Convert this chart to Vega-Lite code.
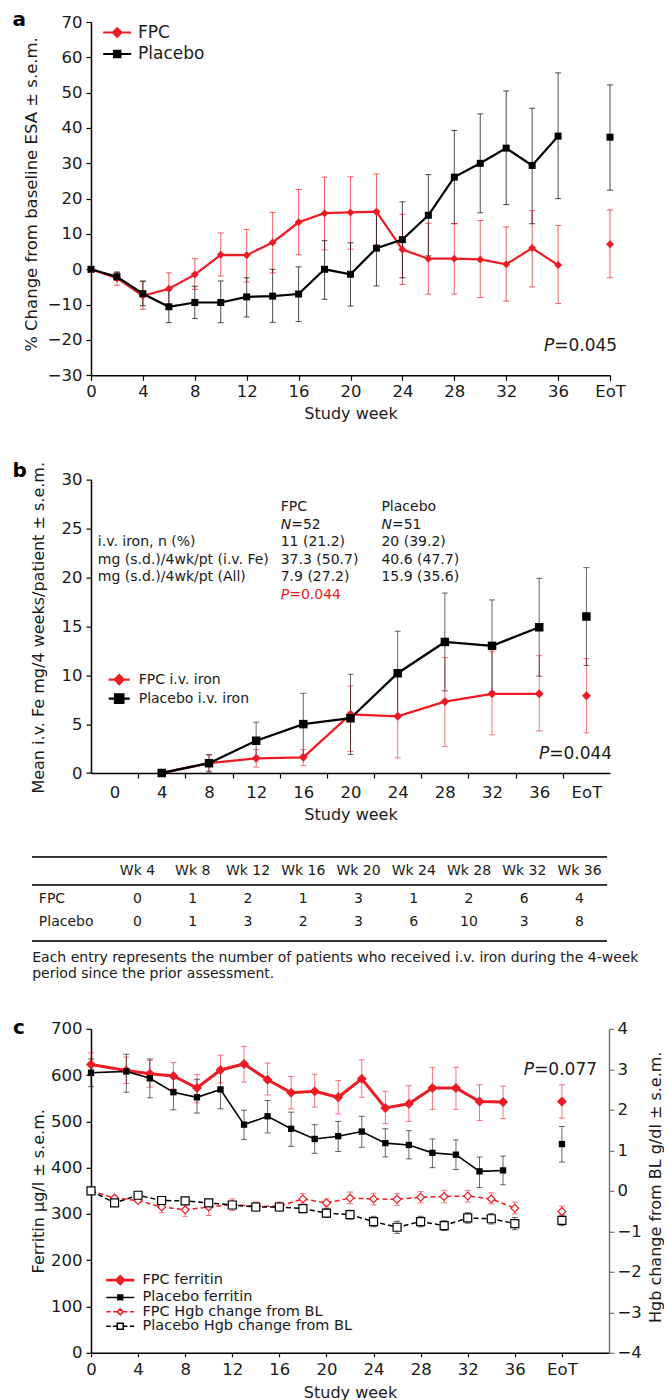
{
"$schema": "https://vega.github.io/schema/vega-lite/v6.json",
"background": "white",
"padding": {"left": 12, "top": 10, "right": 0, "bottom": 0},
"autosize": {"type": "pad"},
"bounds": "flush",
"spacing": 103.6,
"resolve": {"scale": {"color": "independent"}, "legend": {"color": "independent"}},
"config": {
  "font": "DejaVu Sans",
  "view": {"stroke": null},
  "axis": {"labelFont": "DejaVu Sans", "labelFontSize": 16.5, "labelColor": "#1a1a1a", "titleFont": "DejaVu Sans", "titleFontSize": 16, "titleFontWeight": "normal", "titleColor": "#1a1a1a", "domainColor": "#000000", "domainWidth": 1.5, "tickColor": "#000000", "tickWidth": 1.2, "tickSize": 5, "labelPadding": 4, "grid": false, "labelFlush": false, "labelOverlap": false},
  "text": {"font": "DejaVu Sans", "color": "#1a1a1a"}
},
"datasets": {
  "esa": [
    {"week":0,"grp":"FPC","y":0,"lo":0,"hi":0},
    {"week":2,"grp":"FPC","y":-2.5,"lo":-4.5,"hi":-0.8},
    {"week":4,"grp":"FPC","y":-7.5,"lo":-11.3,"hi":-3.5},
    {"week":6,"grp":"FPC","y":-5.5,"lo":-10,"hi":-1},
    {"week":8,"grp":"FPC","y":-1.5,"lo":-5.7,"hi":3},
    {"week":10,"grp":"FPC","y":4.1,"lo":-1.9,"hi":10.3},
    {"week":12,"grp":"FPC","y":4,"lo":-3.6,"hi":11.3},
    {"week":14,"grp":"FPC","y":7.6,"lo":-1,"hi":16.1},
    {"week":16,"grp":"FPC","y":13.3,"lo":4.1,"hi":22.6},
    {"week":18,"grp":"FPC","y":15.9,"lo":5.5,"hi":26.1},
    {"week":20,"grp":"FPC","y":16.1,"lo":5.7,"hi":26.2},
    {"week":22,"grp":"FPC","y":16.3,"lo":5.5,"hi":27},
    {"week":24,"grp":"FPC","y":5.6,"lo":-4.3,"hi":15.6},
    {"week":26,"grp":"FPC","y":3,"lo":-7,"hi":13},
    {"week":28,"grp":"FPC","y":3,"lo":-7,"hi":13},
    {"week":30,"grp":"FPC","y":2.8,"lo":-8,"hi":13.8},
    {"week":32,"grp":"FPC","y":1.4,"lo":-9,"hi":12},
    {"week":34,"grp":"FPC","y":6,"lo":-5,"hi":16.6},
    {"week":36,"grp":"FPC","y":1.2,"lo":-9.7,"hi":12.4},
    {"week":40,"grp":"FPC","y":7.1,"lo":-2.4,"hi":16.8},
    {"week":0,"grp":"Placebo","y":0,"lo":0,"hi":0},
    {"week":2,"grp":"Placebo","y":-2.1,"lo":-3.1,"hi":-0.8},
    {"week":4,"grp":"Placebo","y":-6.9,"lo":-10.3,"hi":-3.3},
    {"week":6,"grp":"Placebo","y":-10.6,"lo":-15.1,"hi":-5.9},
    {"week":8,"grp":"Placebo","y":-9.4,"lo":-13.9,"hi":-4.8},
    {"week":10,"grp":"Placebo","y":-9.4,"lo":-15.1,"hi":-3.3},
    {"week":12,"grp":"Placebo","y":-7.8,"lo":-13.5,"hi":-2.4},
    {"week":14,"grp":"Placebo","y":-7.6,"lo":-15,"hi":0},
    {"week":16,"grp":"Placebo","y":-7,"lo":-14.8,"hi":0.7},
    {"week":18,"grp":"Placebo","y":0,"lo":-8.5,"hi":8.1},
    {"week":20,"grp":"Placebo","y":-1.4,"lo":-10.4,"hi":7.5},
    {"week":22,"grp":"Placebo","y":6,"lo":-4.7,"hi":16.7},
    {"week":24,"grp":"Placebo","y":8.4,"lo":-2.4,"hi":19.1},
    {"week":26,"grp":"Placebo","y":15.3,"lo":3.8,"hi":26.8},
    {"week":28,"grp":"Placebo","y":26.1,"lo":12.9,"hi":39.3},
    {"week":30,"grp":"Placebo","y":30,"lo":16,"hi":44},
    {"week":32,"grp":"Placebo","y":34.3,"lo":18.3,"hi":50.5},
    {"week":34,"grp":"Placebo","y":29.4,"lo":12.9,"hi":45.6},
    {"week":36,"grp":"Placebo","y":37.7,"lo":20,"hi":55.6},
    {"week":40,"grp":"Placebo","y":37.4,"lo":22.4,"hi":52.2}
  ],
  "fe": [
    {"week":4,"grp":"FPC i.v. iron","y":0,"lo":0,"hi":0},
    {"week":8,"grp":"FPC i.v. iron","y":1,"lo":0.2,"hi":1.8},
    {"week":12,"grp":"FPC i.v. iron","y":1.5,"lo":0.6,"hi":2.4},
    {"week":16,"grp":"FPC i.v. iron","y":1.6,"lo":0.75,"hi":2.4},
    {"week":20,"grp":"FPC i.v. iron","y":6,"lo":2.2,"hi":8.9},
    {"week":24,"grp":"FPC i.v. iron","y":5.8,"lo":1.55,"hi":10.05},
    {"week":28,"grp":"FPC i.v. iron","y":7.3,"lo":2.7,"hi":11.8},
    {"week":32,"grp":"FPC i.v. iron","y":8.1,"lo":3.9,"hi":12.4},
    {"week":36,"grp":"FPC i.v. iron","y":8.1,"lo":4.3,"hi":12},
    {"week":40,"grp":"FPC i.v. iron","y":7.9,"lo":4.1,"hi":11.7},
    {"week":4,"grp":"Placebo i.v. iron","y":0,"lo":0,"hi":0},
    {"week":8,"grp":"Placebo i.v. iron","y":1,"lo":0.1,"hi":1.9},
    {"week":12,"grp":"Placebo i.v. iron","y":3.3,"lo":1.4,"hi":5.2},
    {"week":16,"grp":"Placebo i.v. iron","y":5,"lo":1.85,"hi":8.15},
    {"week":20,"grp":"Placebo i.v. iron","y":5.6,"lo":1.9,"hi":10.1},
    {"week":24,"grp":"Placebo i.v. iron","y":10.2,"lo":5.9,"hi":14.5},
    {"week":28,"grp":"Placebo i.v. iron","y":13.4,"lo":8.4,"hi":18.4},
    {"week":32,"grp":"Placebo i.v. iron","y":13,"lo":8.3,"hi":17.7},
    {"week":36,"grp":"Placebo i.v. iron","y":14.9,"lo":9.9,"hi":19.9},
    {"week":40,"grp":"Placebo i.v. iron","y":16,"lo":11,"hi":21}
  ],
  "fer": [
    {"week":0,"grp":"FPC ferritin","y":623,"lo":599,"hi":648},
    {"week":3,"grp":"FPC ferritin","y":610,"lo":582,"hi":639},
    {"week":5,"grp":"FPC ferritin","y":603,"lo":574,"hi":632},
    {"week":7,"grp":"FPC ferritin","y":598,"lo":570,"hi":627},
    {"week":9,"grp":"FPC ferritin","y":572,"lo":540,"hi":601},
    {"week":11,"grp":"FPC ferritin","y":611,"lo":583,"hi":643},
    {"week":13,"grp":"FPC ferritin","y":624,"lo":585,"hi":662},
    {"week":15,"grp":"FPC ferritin","y":590,"lo":557,"hi":626},
    {"week":17,"grp":"FPC ferritin","y":562,"lo":527,"hi":597},
    {"week":19,"grp":"FPC ferritin","y":565,"lo":531,"hi":602},
    {"week":21,"grp":"FPC ferritin","y":552,"lo":516,"hi":588},
    {"week":23,"grp":"FPC ferritin","y":592,"lo":552,"hi":633},
    {"week":25,"grp":"FPC ferritin","y":529,"lo":495,"hi":565},
    {"week":27,"grp":"FPC ferritin","y":538,"lo":500,"hi":577},
    {"week":29,"grp":"FPC ferritin","y":572,"lo":526,"hi":616},
    {"week":31,"grp":"FPC ferritin","y":572,"lo":526,"hi":617},
    {"week":33,"grp":"FPC ferritin","y":543,"lo":502,"hi":579},
    {"week":35,"grp":"FPC ferritin","y":542,"lo":506,"hi":576},
    {"week":40,"grp":"FPC ferritin","y":543,"lo":507,"hi":579},
    {"week":0,"grp":"Placebo ferritin","y":605,"lo":575,"hi":635},
    {"week":3,"grp":"Placebo ferritin","y":608,"lo":563,"hi":645},
    {"week":5,"grp":"Placebo ferritin","y":593,"lo":551,"hi":635},
    {"week":7,"grp":"Placebo ferritin","y":563,"lo":525,"hi":598},
    {"week":9,"grp":"Placebo ferritin","y":552,"lo":518,"hi":591},
    {"week":11,"grp":"Placebo ferritin","y":569,"lo":527,"hi":611},
    {"week":13,"grp":"Placebo ferritin","y":493,"lo":461,"hi":524},
    {"week":15,"grp":"Placebo ferritin","y":511,"lo":475,"hi":545},
    {"week":17,"grp":"Placebo ferritin","y":484,"lo":446,"hi":520},
    {"week":19,"grp":"Placebo ferritin","y":462,"lo":431,"hi":493},
    {"week":21,"grp":"Placebo ferritin","y":468,"lo":435,"hi":500},
    {"week":23,"grp":"Placebo ferritin","y":478,"lo":444,"hi":511},
    {"week":25,"grp":"Placebo ferritin","y":453,"lo":423,"hi":484},
    {"week":27,"grp":"Placebo ferritin","y":449,"lo":419,"hi":480},
    {"week":29,"grp":"Placebo ferritin","y":432,"lo":400,"hi":462},
    {"week":31,"grp":"Placebo ferritin","y":428,"lo":396,"hi":460},
    {"week":33,"grp":"Placebo ferritin","y":392,"lo":357,"hi":423},
    {"week":35,"grp":"Placebo ferritin","y":394,"lo":363,"hi":425},
    {"week":40,"grp":"Placebo ferritin","y":451,"lo":412,"hi":489}
  ],
  "hgb": [
    {"week":0,"grp":"FPC Hgb change from BL","y":0,"lo":0,"hi":0},
    {"week":2,"grp":"FPC Hgb change from BL","y":-0.18,"lo":-0.23,"hi":-0.13},
    {"week":4,"grp":"FPC Hgb change from BL","y":-0.24,"lo":-0.29,"hi":-0.19},
    {"week":6,"grp":"FPC Hgb change from BL","y":-0.4,"lo":-0.54,"hi":-0.28},
    {"week":8,"grp":"FPC Hgb change from BL","y":-0.47,"lo":-0.63,"hi":-0.32},
    {"week":10,"grp":"FPC Hgb change from BL","y":-0.4,"lo":-0.61,"hi":-0.24},
    {"week":12,"grp":"FPC Hgb change from BL","y":-0.34,"lo":-0.49,"hi":-0.2},
    {"week":14,"grp":"FPC Hgb change from BL","y":-0.38,"lo":-0.49,"hi":-0.28},
    {"week":16,"grp":"FPC Hgb change from BL","y":-0.38,"lo":-0.49,"hi":-0.28},
    {"week":18,"grp":"FPC Hgb change from BL","y":-0.2,"lo":-0.32,"hi":-0.07},
    {"week":20,"grp":"FPC Hgb change from BL","y":-0.3,"lo":-0.4,"hi":-0.2},
    {"week":22,"grp":"FPC Hgb change from BL","y":-0.18,"lo":-0.32,"hi":-0.03},
    {"week":24,"grp":"FPC Hgb change from BL","y":-0.2,"lo":-0.35,"hi":-0.06},
    {"week":26,"grp":"FPC Hgb change from BL","y":-0.21,"lo":-0.36,"hi":-0.07},
    {"week":28,"grp":"FPC Hgb change from BL","y":-0.16,"lo":-0.3,"hi":-0.02},
    {"week":30,"grp":"FPC Hgb change from BL","y":-0.14,"lo":-0.3,"hi":0.01},
    {"week":32,"grp":"FPC Hgb change from BL","y":-0.13,"lo":-0.28,"hi":0.01},
    {"week":34,"grp":"FPC Hgb change from BL","y":-0.2,"lo":-0.32,"hi":-0.05},
    {"week":36,"grp":"FPC Hgb change from BL","y":-0.43,"lo":-0.57,"hi":-0.28},
    {"week":40,"grp":"FPC Hgb change from BL","y":-0.51,"lo":-0.63,"hi":-0.38},
    {"week":0,"grp":"Placebo Hgb change from BL","y":0,"lo":0,"hi":0},
    {"week":2,"grp":"Placebo Hgb change from BL","y":-0.3,"lo":-0.36,"hi":-0.24},
    {"week":4,"grp":"Placebo Hgb change from BL","y":-0.11,"lo":-0.17,"hi":-0.05},
    {"week":6,"grp":"Placebo Hgb change from BL","y":-0.24,"lo":-0.31,"hi":-0.17},
    {"week":8,"grp":"Placebo Hgb change from BL","y":-0.25,"lo":-0.32,"hi":-0.18},
    {"week":10,"grp":"Placebo Hgb change from BL","y":-0.3,"lo":-0.38,"hi":-0.22},
    {"week":12,"grp":"Placebo Hgb change from BL","y":-0.35,"lo":-0.44,"hi":-0.26},
    {"week":14,"grp":"Placebo Hgb change from BL","y":-0.4,"lo":-0.5,"hi":-0.3},
    {"week":16,"grp":"Placebo Hgb change from BL","y":-0.4,"lo":-0.5,"hi":-0.3},
    {"week":18,"grp":"Placebo Hgb change from BL","y":-0.44,"lo":-0.54,"hi":-0.34},
    {"week":20,"grp":"Placebo Hgb change from BL","y":-0.55,"lo":-0.66,"hi":-0.44},
    {"week":22,"grp":"Placebo Hgb change from BL","y":-0.59,"lo":-0.7,"hi":-0.48},
    {"week":24,"grp":"Placebo Hgb change from BL","y":-0.76,"lo":-0.89,"hi":-0.63},
    {"week":26,"grp":"Placebo Hgb change from BL","y":-0.9,"lo":-1.05,"hi":-0.75},
    {"week":28,"grp":"Placebo Hgb change from BL","y":-0.76,"lo":-0.89,"hi":-0.63},
    {"week":30,"grp":"Placebo Hgb change from BL","y":-0.86,"lo":-0.98,"hi":-0.74},
    {"week":32,"grp":"Placebo Hgb change from BL","y":-0.67,"lo":-0.8,"hi":-0.54},
    {"week":34,"grp":"Placebo Hgb change from BL","y":-0.69,"lo":-0.82,"hi":-0.56},
    {"week":36,"grp":"Placebo Hgb change from BL","y":-0.81,"lo":-0.96,"hi":-0.66},
    {"week":40,"grp":"Placebo Hgb change from BL","y":-0.73,"lo":-0.86,"hi":-0.6}
  ],
  "tbl": [
    {"col":1,"hdr":"Wk 4","fpc":"0","pla":"0"},
    {"col":2,"hdr":"Wk 8","fpc":"1","pla":"1"},
    {"col":3,"hdr":"Wk 12","fpc":"2","pla":"3"},
    {"col":4,"hdr":"Wk 16","fpc":"1","pla":"2"},
    {"col":5,"hdr":"Wk 20","fpc":"3","pla":"3"},
    {"col":6,"hdr":"Wk 24","fpc":"1","pla":"6"},
    {"col":7,"hdr":"Wk 28","fpc":"2","pla":"10"},
    {"col":8,"hdr":"Wk 32","fpc":"6","pla":"3"},
    {"col":9,"hdr":"Wk 36","fpc":"4","pla":"8"}
  ]
},
"vconcat": [
{
  "width": 519, "height": 353.3,
  "data": {"name": "esa"},
  "layer": [
    {"mark": {"type": "rule", "strokeWidth": 1, "opacity": 0.7},
     "encoding": {
       "x": {"field": "week", "type": "quantitative", "scale": {"domain": [0, 40], "nice": false, "zero": false},
             "axis": {"title": "Study week", "values": [0,4,8,12,16,20,24,28,32,36,40], "tickCount": 30, "format": "d", "labelExpr": "datum.value == 40 ? 'EoT' : datum.label", "labelOverlap": false, "tickSize": 5, "labelPadding": 3, "titlePadding": 6}},
       "y": {"field": "lo", "type": "quantitative", "scale": {"domain": [-30, 70], "nice": false},
             "axis": {"title": "% Change from baseline ESA ± s.e.m.", "values": [-30,-20,-10,0,10,20,30,40,50,60,70], "tickCount": 30, "format": "d", "labelOverlap": false, "titleX": -60, "titleY": 172, "titleBaseline": "middle", "titleAngle": -90, "titleFontSize": 16.5}},
       "y2": {"field": "hi"},
       "color": {"field": "grp", "type": "nominal", "scale": {"domain": ["FPC", "Placebo"], "range": ["#ed1c24", "#000000"]},
         "legend": {"orient": "none", "legendX": 17.7, "legendY": 2, "title": null, "labelFontSize": 17, "labelFont": "DejaVu Sans", "labelColor": "#1a1a1a", "symbolSize": 196, "symbolStrokeWidth": 2.2, "labelOffset": 12.3, "rowPadding": 2.5, "padding": 0, "offset": 0, "symbolOpacity": 1,
           "encode": {"symbols": {"update": {
             "shape": {"signal": "datum.value === 'FPC' ? 'M-2,0H2M0,-0.6L0.6,0L0,0.6L-0.6,0Z' : 'M-2,0H2M-0.45,-0.45H0.45V0.45H-0.45Z'"},
             "fill": {"signal": "datum.value === 'FPC' ? '#ed1c24' : '#000000'"},
             "stroke": {"signal": "datum.value === 'FPC' ? '#ed1c24' : '#000000'"}
           }}}}}
     }},
    {"mark": {"type": "tick", "orient": "horizontal", "size": 6, "thickness": 1, "opacity": 0.7},
     "encoding": {"x": {"field": "week", "type": "quantitative"}, "y": {"field": "lo", "type": "quantitative"}, "color": {"field": "grp", "type": "nominal"}}},
    {"mark": {"type": "tick", "orient": "horizontal", "size": 6, "thickness": 1, "opacity": 0.7},
     "encoding": {"x": {"field": "week", "type": "quantitative"}, "y": {"field": "hi", "type": "quantitative"}, "color": {"field": "grp", "type": "nominal"}}},
    {"transform": [{"filter": "datum.week < 40"}],
     "mark": {"type": "line", "strokeWidth": 2.2},
     "encoding": {"x": {"field": "week", "type": "quantitative"}, "y": {"field": "y", "type": "quantitative"}, "color": {"field": "grp", "type": "nominal"}}},
    {"transform": [{"filter": "datum.grp == 'FPC'"}],
     "mark": {"type": "point", "shape": "diamond", "filled": true, "size": 64, "color": "#ed1c24", "opacity": 1},
     "encoding": {"x": {"field": "week", "type": "quantitative"}, "y": {"field": "y", "type": "quantitative"}}},
    {"transform": [{"filter": "datum.grp == 'Placebo'"}],
     "mark": {"type": "point", "shape": "square", "filled": true, "size": 49, "color": "#000000", "opacity": 1},
     "encoding": {"x": {"field": "week", "type": "quantitative"}, "y": {"field": "y", "type": "quantitative"}}},
    {"data": {"values": [{}]},
     "mark": {"type": "text", "text": "P", "fontStyle": "italic", "align": "right", "baseline": "middle", "fontSize": 17},
     "encoding": {"x": {"datum": 35.7}, "y": {"datum": -21.8}}},
    {"data": {"values": [{}]},
     "mark": {"type": "text", "text": "=0.045", "align": "left", "baseline": "middle", "fontSize": 17},
     "encoding": {"x": {"datum": 35.7}, "y": {"datum": -21.8}}},
    {"data": {"values": [{}]},
     "mark": {"type": "text", "text": "a", "align": "left", "baseline": "alphabetic", "fontSize": 20, "fontWeight": "bold", "color": "#000000"},
     "encoding": {"x": {"datum": -6.05}, "y": {"datum": 68.78}}}
  ]
},
{
  "width": 519, "height": 293.4,
  "data": {"name": "fe"},
  "layer": [
    {"mark": {"type": "rule", "strokeWidth": 1, "opacity": 0.6},
     "encoding": {
       "x": {"field": "week", "type": "quantitative", "scale": {"domain": [-2, 42], "nice": false, "zero": false},
             "axis": {"title": "Study week", "values": [0,2,4,6,8,10,12,14,16,18,20,22,24,26,28,30,32,34,36,38,40], "tickCount": 50, "format": "d", "labelExpr": "datum.value % 4 != 0 ? '' : (datum.value == 40 ? 'EoT' : datum.label)", "labelOverlap": false, "tickOpacity": {"condition": {"test": "datum.value % 4 == 0", "value": 0}, "value": 1}, "tickSize": 5, "labelPadding": 6, "titlePadding": 6}},
       "y": {"field": "lo", "type": "quantitative", "scale": {"domain": [0, 30], "nice": false},
             "axis": {"title": "Mean i.v. Fe mg/4 weeks/patient ± s.e.m.", "values": [0,5,10,15,20,25,30], "tickCount": 30, "format": "d", "labelOverlap": false, "titleX": -52.5, "titleY": 147.7, "titleBaseline": "middle", "titleAngle": -90}},
       "y2": {"field": "hi"},
       "color": {"field": "grp", "type": "nominal", "scale": {"domain": ["FPC i.v. iron", "Placebo i.v. iron"], "range": ["#ed1c24", "#000000"]},
         "legend": {"orient": "none", "legendX": 20.7, "legendY": 192.5, "title": null, "labelFontSize": 14, "labelFont": "DejaVu Sans", "labelColor": "#1a1a1a", "symbolSize": 144, "symbolStrokeWidth": 2.2, "labelOffset": 12, "rowPadding": 0, "padding": 0, "offset": 0, "symbolOpacity": 1,
           "encode": {"symbols": {"update": {
             "shape": {"signal": "datum.value === 'FPC i.v. iron' ? 'M-1.75,0H1.75M0,-0.75L0.75,0L0,0.75L-0.75,0Z' : 'M-1.75,0H1.75M-0.7,-0.7H0.7V0.7H-0.7Z'"},
             "fill": {"signal": "datum.value === 'FPC i.v. iron' ? '#ed1c24' : '#000000'"},
             "stroke": {"signal": "datum.value === 'FPC i.v. iron' ? '#ed1c24' : '#000000'"}
           }}}}}
     }},
    {"mark": {"type": "tick", "orient": "horizontal", "size": 6, "thickness": 1, "opacity": 0.6},
     "encoding": {"x": {"field": "week", "type": "quantitative"}, "y": {"field": "lo", "type": "quantitative"}, "color": {"field": "grp", "type": "nominal"}}},
    {"mark": {"type": "tick", "orient": "horizontal", "size": 6, "thickness": 1, "opacity": 0.6},
     "encoding": {"x": {"field": "week", "type": "quantitative"}, "y": {"field": "hi", "type": "quantitative"}, "color": {"field": "grp", "type": "nominal"}}},
    {"transform": [{"filter": "datum.week < 40"}],
     "mark": {"type": "line", "strokeWidth": 2.3},
     "encoding": {"x": {"field": "week", "type": "quantitative"}, "y": {"field": "y", "type": "quantitative"}, "color": {"field": "grp", "type": "nominal"}}},
    {"transform": [{"filter": "datum.grp == 'FPC i.v. iron'"}],
     "mark": {"type": "point", "shape": "diamond", "filled": true, "size": 80, "color": "#ed1c24", "opacity": 1},
     "encoding": {"x": {"field": "week", "type": "quantitative"}, "y": {"field": "y", "type": "quantitative"}}},
    {"transform": [{"filter": "datum.grp == 'Placebo i.v. iron'"}],
     "mark": {"type": "point", "shape": "square", "filled": true, "size": 72, "color": "#000000", "opacity": 1},
     "encoding": {"x": {"field": "week", "type": "quantitative"}, "y": {"field": "y", "type": "quantitative"}}},
    {"data": {"values": [{}]},
     "mark": {"type": "text", "text": ["i.v. iron, n (%)", "mg (s.d.)/4wk/pt (i.v. Fe)", "mg (s.d.)/4wk/pt (All)"], "align": "left", "baseline": "alphabetic", "fontSize": 14, "lineHeight": 17.6},
     "encoding": {"x": {"datum": -1.42}, "y": {"datum": 23.18}}},
    {"data": {"values": [{}]},
     "mark": {"type": "text", "text": "FPC", "align": "left", "baseline": "alphabetic", "fontSize": 14},
     "encoding": {"x": {"datum": 14.08}, "y": {"datum": 26.76}}},
    {"data": {"values": [{}]},
     "mark": {"type": "text", "text": "Placebo", "align": "left", "baseline": "alphabetic", "fontSize": 14},
     "encoding": {"x": {"datum": 22.62}, "y": {"datum": 26.76}}},
    {"data": {"values": [{}]},
     "mark": {"type": "text", "text": "N", "fontStyle": "italic", "align": "left", "baseline": "alphabetic", "fontSize": 14},
     "encoding": {"x": {"datum": 14.08}, "y": {"datum": 24.92}}},
    {"data": {"values": [{}]},
     "mark": {"type": "text", "text": "=52", "dx": 10.5, "align": "left", "baseline": "alphabetic", "fontSize": 14},
     "encoding": {"x": {"datum": 14.08}, "y": {"datum": 24.92}}},
    {"data": {"values": [{}]},
     "mark": {"type": "text", "text": "N", "fontStyle": "italic", "align": "left", "baseline": "alphabetic", "fontSize": 14},
     "encoding": {"x": {"datum": 22.62}, "y": {"datum": 24.92}}},
    {"data": {"values": [{}]},
     "mark": {"type": "text", "text": "=51", "dx": 10.5, "align": "left", "baseline": "alphabetic", "fontSize": 14},
     "encoding": {"x": {"datum": 22.62}, "y": {"datum": 24.92}}},
    {"data": {"values": [{}]},
     "mark": {"type": "text", "text": ["11 (21.2)", "37.3 (50.7)", "7.9 (27.2)"], "align": "left", "baseline": "alphabetic", "fontSize": 14, "lineHeight": 17.6},
     "encoding": {"x": {"datum": 14.08}, "y": {"datum": 23.18}}},
    {"data": {"values": [{}]},
     "mark": {"type": "text", "text": ["20 (39.2)", "40.6 (47.7)", "15.9 (35.6)"], "align": "left", "baseline": "alphabetic", "fontSize": 14, "lineHeight": 17.6},
     "encoding": {"x": {"datum": 22.62}, "y": {"datum": 23.18}}},
    {"data": {"values": [{}]},
     "mark": {"type": "text", "text": "P", "fontStyle": "italic", "align": "left", "baseline": "alphabetic", "fontSize": 14, "color": "#ed1c24"},
     "encoding": {"x": {"datum": 14.08}, "y": {"datum": 17.76}}},
    {"data": {"values": [{}]},
     "mark": {"type": "text", "text": "=0.044", "dx": 8.5, "align": "left", "baseline": "alphabetic", "fontSize": 14, "color": "#ed1c24"},
     "encoding": {"x": {"datum": 14.08}, "y": {"datum": 17.76}}},
    {"data": {"values": [{}]},
     "mark": {"type": "text", "text": "P", "fontStyle": "italic", "align": "right", "baseline": "middle", "fontSize": 17},
     "encoding": {"x": {"datum": 36.85}, "y": {"datum": 1.91}}},
    {"data": {"values": [{}]},
     "mark": {"type": "text", "text": "=0.044", "align": "left", "baseline": "middle", "fontSize": 17},
     "encoding": {"x": {"datum": 36.85}, "y": {"datum": 1.91}}},
    {"data": {"values": [{}]},
     "mark": {"type": "text", "text": "b", "align": "left", "baseline": "alphabetic", "fontSize": 20, "fontWeight": "bold", "color": "#000000"},
     "encoding": {"x": {"datum": -8.66}, "y": {"datum": 30.3}}}
  ]
},
{
  "width": 519, "height": 47.8,
  "data": {"name": "tbl"},
  "layer": [
    {"mark": {"type": "rule", "strokeWidth": 1.2, "color": "#333333"},
     "encoding": {"x": {"datum": -0.906, "type": "quantitative", "scale": {"domain": [0.158, 9.552], "nice": false, "zero": false}, "axis": null}, "x2": {"datum": 9.498}, "y": {"datum": 0, "type": "quantitative", "scale": {"domain": [1.243, 4.128], "reverse": true, "nice": false, "zero": false}, "axis": null}}},
    {"mark": {"type": "rule", "strokeWidth": 1.2, "color": "#333333"},
     "encoding": {"x": {"datum": -0.906, "type": "quantitative"}, "x2": {"datum": 9.498}, "y": {"datum": 1.69, "type": "quantitative"}}},
    {"mark": {"type": "rule", "strokeWidth": 1.2, "color": "#333333"},
     "encoding": {"x": {"datum": -0.906, "type": "quantitative"}, "x2": {"datum": 9.498}, "y": {"datum": 5.1, "type": "quantitative"}}},
    {"mark": {"type": "text", "align": "center", "baseline": "middle", "fontSize": 14},
     "encoding": {"x": {"field": "col", "type": "quantitative"}, "y": {"datum": 0.845, "type": "quantitative"}, "text": {"field": "hdr"}}},
    {"mark": {"type": "text", "align": "center", "baseline": "middle", "fontSize": 14},
     "encoding": {"x": {"field": "col", "type": "quantitative"}, "y": {"datum": 2.58, "type": "quantitative"}, "text": {"field": "fpc"}}},
    {"mark": {"type": "text", "align": "center", "baseline": "middle", "fontSize": 14},
     "encoding": {"x": {"field": "col", "type": "quantitative"}, "y": {"datum": 3.92, "type": "quantitative"}, "text": {"field": "pla"}}},
    {"data": {"values": [{}]},
     "mark": {"type": "text", "text": "FPC", "align": "left", "baseline": "middle", "fontSize": 14},
     "encoding": {"x": {"datum": -0.786, "type": "quantitative"}, "y": {"datum": 2.58, "type": "quantitative"}}},
    {"data": {"values": [{}]},
     "mark": {"type": "text", "text": "Placebo", "align": "left", "baseline": "middle", "fontSize": 14},
     "encoding": {"x": {"datum": -0.786, "type": "quantitative"}, "y": {"datum": 3.92, "type": "quantitative"}}},
    {"data": {"values": [{}]},
     "mark": {"type": "text", "text": ["Each entry represents the number of patients who received i.v. iron during the 4-week", "period since the prior assessment."], "align": "left", "baseline": "alphabetic", "fontSize": 14, "lineHeight": 16},
     "encoding": {"x": {"datum": -0.906, "type": "quantitative"}, "y": {"datum": 6.37, "type": "quantitative"}}}
  ]
},
{
  "width": 518, "height": 324,
  "layer": [
    {"data": {"name": "fer"},
     "layer": [
      {"mark": {"type": "rule", "strokeWidth": 1, "opacity": 0.6},
       "encoding": {
         "x": {"field": "week", "type": "quantitative", "scale": {"domain": [0, 44], "nice": false, "zero": false},
               "axis": {"title": "Study week", "values": [0,4,8,12,16,20,24,28,32,36,40], "tickCount": 30, "format": "d", "labelExpr": "datum.value == 40 ? 'EoT' : datum.label", "labelOverlap": false, "tickSize": 4, "labelPadding": 5, "titlePadding": 6}},
         "y": {"field": "lo", "type": "quantitative", "scale": {"domain": [0, 700], "nice": false},
               "axis": {"title": "Ferritin μg/l ± s.e.m.", "values": [0,100,200,300,400,500,600,700], "tickCount": 30, "format": "d", "labelOverlap": false, "titleX": -52.5, "titleY": 162, "titleBaseline": "middle", "titleAngle": -90}},
         "y2": {"field": "hi"},
         "color": {"field": "grp", "type": "nominal", "scale": {"domain": ["FPC ferritin", "Placebo ferritin", "FPC Hgb change from BL", "Placebo Hgb change from BL"], "range": ["#ed1c24", "#000000", "#ed1c24", "#000000"]},
           "legend": {"orient": "none", "legendX": 22, "legendY": 244, "title": null, "labelFontSize": 14.5, "labelFont": "DejaVu Sans", "labelColor": "#1a1a1a", "labelLimit": 400, "symbolSize": 144, "symbolStrokeWidth": 1.6, "labelOffset": 15, "rowPadding": -0.6, "padding": 0, "offset": 0, "symbolOpacity": 1,
             "encode": {"symbols": {"update": {
               "shape": {"signal": "datum.value === 'FPC ferritin' ? 'M-2.33,0H2.33M0,-0.6L0.6,0L0,0.6L-0.6,0Z' : datum.value === 'Placebo ferritin' ? 'M-2.33,0H2.33M-0.4,-0.4H0.4V0.4H-0.4Z' : datum.value === 'FPC Hgb change from BL' ? 'M-2.33,0H-1.6M-1.2,0H-0.55M0.55,0H1.2M1.6,0H2.33M0,-0.5L0.5,0L0,0.5L-0.5,0Z' : 'M-2.33,0H-1.6M-1.2,0H-0.6M0.6,0H1.2M1.6,0H2.33M-0.5,-0.5H0.5V0.5H-0.5Z'"},
               "fill": {"signal": "datum.value === 'FPC ferritin' ? '#ed1c24' : datum.value === 'Placebo ferritin' ? '#000000' : '#ffffff'"},
               "fillOpacity": {"signal": "indexof(datum.value, 'ferritin') >= 0 ? 1 : 0"},
               "stroke": {"signal": "indexof(datum.value, 'FPC') === 0 ? '#ed1c24' : '#000000'"},
               "strokeWidth": {"signal": "datum.value === 'FPC ferritin' ? 2.8 : 1.5"}
             }}}}}
       }},
      {"mark": {"type": "tick", "orient": "horizontal", "size": 6, "thickness": 1, "opacity": 0.6},
       "encoding": {"x": {"field": "week", "type": "quantitative"}, "y": {"field": "lo", "type": "quantitative"}, "color": {"field": "grp", "type": "nominal"}}},
      {"mark": {"type": "tick", "orient": "horizontal", "size": 6, "thickness": 1, "opacity": 0.6},
       "encoding": {"x": {"field": "week", "type": "quantitative"}, "y": {"field": "hi", "type": "quantitative"}, "color": {"field": "grp", "type": "nominal"}}},
      {"transform": [{"filter": "datum.week < 40 && datum.grp == 'FPC ferritin'"}],
       "mark": {"type": "line", "strokeWidth": 3},
       "encoding": {"x": {"field": "week", "type": "quantitative"}, "y": {"field": "y", "type": "quantitative"}, "color": {"field": "grp", "type": "nominal"}}},
      {"transform": [{"filter": "datum.week < 40 && datum.grp == 'Placebo ferritin'"}],
       "mark": {"type": "line", "strokeWidth": 1.6},
       "encoding": {"x": {"field": "week", "type": "quantitative"}, "y": {"field": "y", "type": "quantitative"}, "color": {"field": "grp", "type": "nominal"}}},
      {"transform": [{"filter": "datum.grp == 'FPC ferritin'"}],
       "mark": {"type": "point", "shape": "diamond", "filled": true, "size": 100, "color": "#ed1c24", "opacity": 1},
       "encoding": {"x": {"field": "week", "type": "quantitative"}, "y": {"field": "y", "type": "quantitative"}}},
      {"transform": [{"filter": "datum.grp == 'Placebo ferritin'"}],
       "mark": {"type": "point", "shape": "square", "filled": true, "size": 40, "color": "#000000", "opacity": 1},
       "encoding": {"x": {"field": "week", "type": "quantitative"}, "y": {"field": "y", "type": "quantitative"}}},
      {"data": {"values": [{}]},
       "mark": {"type": "text", "text": "P", "fontStyle": "italic", "align": "right", "baseline": "middle", "fontSize": 17},
       "encoding": {"x": {"datum": 37.64}, "y": {"datum": 612}}},
      {"data": {"values": [{}]},
       "mark": {"type": "text", "text": "=0.077", "align": "left", "baseline": "middle", "fontSize": 17},
       "encoding": {"x": {"datum": 37.64}, "y": {"datum": 612}}},
      {"data": {"values": [{}]},
       "mark": {"type": "text", "text": "c", "align": "left", "baseline": "alphabetic", "fontSize": 20, "fontWeight": "bold", "color": "#000000"},
       "encoding": {"x": {"datum": -6.63}, "y": {"datum": 689}}}
     ]},
    {"data": {"name": "hgb"},
     "layer": [
      {"mark": {"type": "rule", "strokeWidth": 1, "opacity": 0.6},
       "encoding": {
         "x": {"field": "week", "type": "quantitative"},
         "y": {"field": "lo", "type": "quantitative", "scale": {"domain": [-4, 4], "nice": false},
               "axis": {"orient": "right", "title": "Hgb change from BL g/dl ± s.e.m.", "values": [-4,-3,-2,-1,0,1,2,3,4], "tickCount": 30, "format": "d", "labelOverlap": false, "titleX": 46.5, "titleY": 158, "titleBaseline": "middle", "titleAngle": -90, "domainColor": "#777777", "tickColor": "#777777", "labelPadding": 3}},
         "y2": {"field": "hi"},
         "color": {"field": "grp", "type": "nominal"}
       }},
      {"mark": {"type": "tick", "orient": "horizontal", "size": 6, "thickness": 1, "opacity": 0.6},
       "encoding": {"x": {"field": "week", "type": "quantitative"}, "y": {"field": "lo", "type": "quantitative"}, "color": {"field": "grp", "type": "nominal"}}},
      {"mark": {"type": "tick", "orient": "horizontal", "size": 6, "thickness": 1, "opacity": 0.6},
       "encoding": {"x": {"field": "week", "type": "quantitative"}, "y": {"field": "hi", "type": "quantitative"}, "color": {"field": "grp", "type": "nominal"}}},
      {"transform": [{"filter": "datum.week < 40"}],
       "mark": {"type": "line", "strokeWidth": 1.5, "strokeDash": [5, 3]},
       "encoding": {"x": {"field": "week", "type": "quantitative"}, "y": {"field": "y", "type": "quantitative"}, "color": {"field": "grp", "type": "nominal"}}},
      {"transform": [{"filter": "datum.grp == 'FPC Hgb change from BL'"}],
       "mark": {"type": "point", "shape": "diamond", "filled": true, "fill": "#ffffff", "stroke": "#ed1c24", "strokeWidth": 1.2, "size": 60, "opacity": 1},
       "encoding": {"x": {"field": "week", "type": "quantitative"}, "y": {"field": "y", "type": "quantitative"}}},
      {"transform": [{"filter": "datum.grp == 'Placebo Hgb change from BL'"}],
       "mark": {"type": "point", "shape": "square", "filled": true, "fill": "#ffffff", "stroke": "#000000", "strokeWidth": 1.2, "size": 64, "opacity": 1},
       "encoding": {"x": {"field": "week", "type": "quantitative"}, "y": {"field": "y", "type": "quantitative"}}}
     ]}
  ],
  "resolve": {"scale": {"y": "independent"}}
}
]
}
